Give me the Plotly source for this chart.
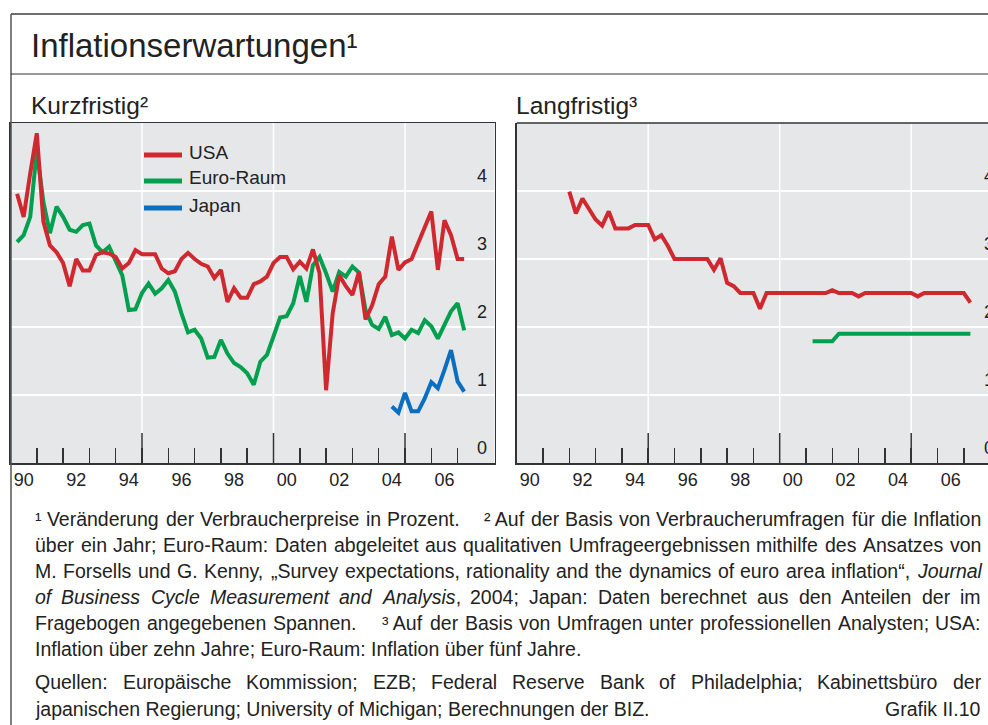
import re
import pandas as pd
import plotly.graph_objects as go

W, H = 988, 725

# ---------------- data ----------------
short_start, short_end = "1990Q1", "2007Q1"
usa_short = [3.96, 3.62, 4.26,
             4.85, 3.55, 3.20, 3.10,
             2.94, 2.60, 3.00, 2.83,
             2.83, 3.06, 3.10, 3.08,
             3.03, 2.86, 2.94, 3.13,
             3.07, 3.07, 3.07, 2.86,
             2.79, 2.82, 3.00, 3.09,
             3.00, 2.93, 2.89, 2.72,
             2.84, 2.37, 2.57, 2.43,
             2.43, 2.63, 2.67, 2.74,
             2.94, 3.03, 3.03, 2.85,
             2.96, 2.86, 3.14, 2.79,
             1.07, 2.20, 2.76, 2.60,
             2.47, 2.81, 2.11, 2.32,
             2.63, 2.74, 3.33, 2.84,
             2.95, 3.00, 3.23, 3.48,
             3.70, 2.84, 3.57, 3.35,
             3.00, 3.00]
euro_short = [3.25, 3.35, 3.62,
              4.60, 3.84, 3.38, 3.77,
              3.62, 3.43, 3.40, 3.50,
              3.52, 3.20, 3.10, 3.18,
              2.96, 2.76, 2.25, 2.26,
              2.50, 2.64, 2.49, 2.57,
              2.69, 2.52, 2.20, 1.92,
              1.96, 1.83, 1.55, 1.56,
              1.81, 1.61, 1.47, 1.41,
              1.32, 1.15, 1.49, 1.59,
              1.86, 2.14, 2.16, 2.35,
              2.75, 2.37, 2.91, 3.03,
              2.79, 2.52, 2.81, 2.74,
              2.89, 2.80, 2.25, 2.03,
              1.97, 2.15, 1.88, 1.92,
              1.83, 1.96, 1.91, 2.10,
              2.01, 1.83, 2.03, 2.23,
              2.35, 1.95]
japan_start, japan_end = "2004Q2", "2007Q1"
japan_short = [0.83, 0.74, 1.03, 0.76, 0.76, 0.95, 1.19, 1.10, 1.37, 1.66, 1.20, 1.05]

usa_long_start, usa_long_end = "1991Q4", "2007Q1"
usa_long = [3.99, 3.67, 3.89, 3.73,
            3.58, 3.49, 3.70, 3.45,
            3.45, 3.45, 3.50, 3.50,
            3.50, 3.29, 3.35, 3.19,
            3.00, 3.00, 3.00, 3.00,
            3.00, 3.00, 2.84, 3.01,
            2.65, 2.60, 2.50, 2.50,
            2.50, 2.27, 2.50, 2.50,
            2.50, 2.50, 2.50, 2.50,
            2.50, 2.50, 2.50, 2.50,
            2.54, 2.50, 2.50, 2.50,
            2.45, 2.50, 2.50, 2.50,
            2.50, 2.50, 2.50, 2.50,
            2.50, 2.45, 2.50, 2.50,
            2.50, 2.50, 2.50, 2.50,
            2.50, 2.36]
euro_long_start, euro_long_end = "2001Q1", "2007Q1"
euro_long = [1.79, 1.79, 1.79, 1.79,
             1.90, 1.90, 1.90, 1.90,
             1.90, 1.90, 1.90, 1.90,
             1.90, 1.90, 1.90, 1.90,
             1.90, 1.90, 1.90, 1.90,
             1.90, 1.90, 1.90, 1.90,
             1.90]

year_labels = ["90", "92", "94", "96", "98", "00", "02", "04", "06"]
label_years = [1990, 1992, 1994, 1996, 1998, 2000, 2002, 2004, 2006]
minor_years = list(range(1991, 2008))
major_years = [1995, 2000, 2005]
y_ticks = [0, 1, 2, 3, 4]

RED, GREEN, BLUE = "#d0282f", "#00a04f", "#0a6fc0"
BG = "#e6e7e9"
DARK = "#333333"
TXT = "#222222"
FONT = "Liberation Sans, Arial, sans-serif"


def qpos(start, end):
    per = pd.period_range(start, end, freq="Q")
    return [p.year + p.quarter / 4 for p in per]


def px(x):
    return x / W


def py(y):
    return 1 - y / H


PX_PER_YEAR = 26.3
L_X0, L_X1 = 10.5, 494.5
R_X0 = 516.7
Y_TOP, Y_BOT = 123, 463

fig = go.Figure()
fig.add_trace(go.Scatter(x=qpos(short_start, short_end), y=euro_short, mode="lines",
                         line=dict(color=GREEN, width=4), xaxis="x", yaxis="y", hoverinfo="skip"))
fig.add_trace(go.Scatter(x=qpos(short_start, short_end), y=usa_short, mode="lines",
                         line=dict(color=RED, width=4), xaxis="x", yaxis="y", hoverinfo="skip"))
fig.add_trace(go.Scatter(x=qpos(japan_start, japan_end), y=japan_short, mode="lines",
                         line=dict(color=BLUE, width=4), xaxis="x", yaxis="y", hoverinfo="skip"))
fig.add_trace(go.Scatter(x=qpos(usa_long_start, usa_long_end), y=usa_long, mode="lines",
                         line=dict(color=RED, width=4), xaxis="x2", yaxis="y2", hoverinfo="skip"))
fig.add_trace(go.Scatter(x=qpos(euro_long_start, euro_long_end), y=euro_long, mode="lines",
                         line=dict(color=GREEN, width=4), xaxis="x2", yaxis="y2", hoverinfo="skip"))

xcommon = dict(
    tickmode="array", tickvals=[y + 0.5 for y in label_years], ticktext=year_labels,
    ticks="", showgrid=False, zeroline=False,
    tickfont=dict(family=FONT, size=18, color=TXT),
    minor=dict(tickmode="array", tickvals=minor_years, ticks="inside", ticklen=15,
               tickwidth=1.5, tickcolor=DARK, showgrid=False),
    fixedrange=True,
)
ycommon = dict(range=[0, 5], tickmode="array", tickvals=y_ticks, ticks="",
               showgrid=True, gridcolor="white", gridwidth=1.5, zeroline=False,
               domain=[py(Y_BOT), py(Y_TOP)], fixedrange=True)

fig.update_layout(
    width=W, height=H, margin=dict(l=0, r=0, t=0, b=0),
    paper_bgcolor="white", plot_bgcolor=BG, showlegend=False,
    font=dict(family=FONT, color=TXT),
    xaxis=dict(domain=[px(L_X0), px(L_X1)], range=[1990, 1990 + (L_X1 - L_X0) / PX_PER_YEAR],
               anchor="y", showline=True, mirror=True, linecolor=DARK, linewidth=1.5, **xcommon),
    yaxis=dict(anchor="x", side="right", ticklabelposition="inside", ticklabelshift=-15,
               ticklabelstandoff=8, tickfont=dict(family=FONT, size=18, color=TXT),
               showline=True, mirror=True, linecolor=DARK, linewidth=1.5, **ycommon),
    xaxis2=dict(domain=[px(R_X0), 1], range=[1990, 1990 + (W - R_X0) / PX_PER_YEAR],
                anchor="y2", showline=True, mirror=False, linecolor=DARK, linewidth=1.5, **xcommon),
    yaxis2=dict(anchor="x2", side="left", showticklabels=False, showline=True,
                linecolor=DARK, linewidth=1.5, **ycommon),
)

shapes = []
# vertical white gridlines and long ticks in both panels
for xr, yr in (("x", "y"), ("x2", "y2")):
    for yv in major_years:
        shapes.append(dict(type="line", xref=xr, yref=yr, x0=yv, x1=yv, y0=0, y1=5,
                           line=dict(color="white", width=1.5), layer="below"))
        shapes.append(dict(type="line", xref=xr, yref=yr, x0=yv, x1=yv, y0=0, y1=30 / 68,
                           line=dict(color=DARK, width=1.5), layer="above"))
# top border of right panel
shapes.append(dict(type="line", xref="x2 domain", yref="y2 domain", x0=0, x1=1, y0=1, y1=1,
                   line=dict(color=DARK, width=1.5)))
# outer frame
shapes.append(dict(type="line", xref="paper", yref="paper", x0=px(11), x1=1, y0=py(14), y1=py(14),
                   line=dict(color="#6e6e6e", width=2)))
shapes.append(dict(type="line", xref="paper", yref="paper", x0=px(11), x1=px(11), y0=py(14), y1=0,
                   line=dict(color="#555555", width=1.5)))
shapes.append(dict(type="line", xref="paper", yref="paper", x0=px(11), x1=1, y0=py(74), y1=py(74),
                   line=dict(color=DARK, width=1)))
# legend keys
for col, yy in ((RED, 155), (GREEN, 181), (BLUE, 208)):
    shapes.append(dict(type="line", xref="paper", yref="paper", x0=px(144), x1=px(182),
                       y0=py(yy), y1=py(yy), line=dict(color=col, width=5)))
fig.update_layout(shapes=shapes)

ann = []


def text(x, y, s, size, anchor="left", yanchor="middle", **kw):
    ann.append(dict(xref="paper", yref="paper", x=px(x), y=py(y), text=s, showarrow=False,
                    xanchor=anchor, yanchor=yanchor, borderpad=0, borderwidth=0,
                    font=dict(family=FONT, size=size, color=TXT), **kw))


text(31, 45, "Inflationserwartungen¹", 33)
text(31, 105, "Kurzfristig²", 24.5)
text(516, 105, "Langfristig³", 24.5)
text(189, 152, "USA", 19)
text(189, 178, "Euro-Raum", 19)
text(189, 205, "Japan", 19)

# right-hand tick labels of the long-term panel (cut by the page edge, as in the original)
for v in y_ticks:
    ann.append(dict(xref="paper", yref="y2", x=px(983), y=v, yshift=15, text=str(v),
                    showarrow=False, xanchor="left", yanchor="middle", borderpad=0,
                    font=dict(family=FONT, size=18, color=TXT)))

# ---------- footnotes (justified, Arial/Helvetica metrics) ----------
WID = {" ": 278, ".": 278, ",": 278, ";": 278, ":": 278, "-": 333, "„": 333, "“": 333, "”": 333,
       "¹": 333, "²": 333, "³": 333, "ä": 556, "ö": 556, "ü": 556}
for c in "abdeghnopqu":
    WID[c] = 556
for c in "cksvxyz":
    WID[c] = 500
WID.update({"f": 278, "t": 278, "i": 222, "j": 222, "l": 222, "m": 833, "r": 333, "w": 722})
WID.update({"A": 667, "B": 667, "C": 722, "D": 722, "E": 667, "F": 611, "G": 778, "H": 722,
            "I": 278, "J": 500, "K": 667, "L": 556, "M": 833, "N": 722, "O": 778, "P": 667,
            "Q": 778, "R": 722, "S": 667, "T": 611, "U": 722, "V": 667, "W": 944, "X": 667,
            "Y": 667, "Z": 611})
for c in "0123456789":
    WID[c] = 556

FS = 19.5
X0, X1 = 35, 981


def tw(s):
    plain = re.sub(r"<[^>]+>", "", s)
    return sum(WID.get(c, 556) for c in plain) * FS / 1000


def justify(words, y, big=None):
    weights = [1.0] * (len(words) - 1)
    if big is not None:
        weights[big] = 4.0
    widths = [tw(w) for w in words]
    space = (X1 - X0 - sum(widths)) / sum(weights)
    x = X0
    for i, w in enumerate(words):
        text(x, y, w, FS)
        if i < len(weights):
            x += widths[i] + space * weights[i]


l1 = ["¹ Veränderung", "der", "Verbraucherpreise", "in", "Prozent.", "² Auf", "der", "Basis",
      "von", "Verbraucherumfragen", "für", "die", "Inflation"]
justify(l1, 519, big=4)
justify("über ein Jahr; Euro-Raum: Daten abgeleitet aus qualitativen Umfrageergebnissen mithilfe des Ansatzes von".split(" "), 545)
justify("M. Forsells und G. Kenny, „Survey expectations, rationality and the dynamics of euro area inflation“, <i>Journal</i>".split(" "), 571)
justify(["<i>of</i>", "<i>Business</i>", "<i>Cycle</i>", "<i>Measurement</i>", "<i>and</i>",
         "<i>Analysis</i>,", "2004;", "Japan:", "Daten", "berechnet", "aus", "den", "Anteilen", "der", "im"], 597)
l5 = ["Fragebogen", "angegebenen", "Spannen.", "³ Auf", "der", "Basis", "von", "Umfragen", "unter",
      "professionellen", "Analysten;", "USA:"]
justify(l5, 623, big=2)
text(X0, 648.5, "Inflation über zehn Jahre; Euro-Raum: Inflation über fünf Jahre.", FS)
justify("Quellen: Europäische Kommission; EZB; Federal Reserve Bank of Philadelphia; Kabinettsbüro der".split(" "), 682)
text(X0, 708.5, "japanischen Regierung; University of Michigan; Berechnungen der BIZ.", FS)
text(X1, 708.5, "Grafik II.10", FS, anchor="right")

fig.update_layout(annotations=ann)
fig.write_html("out.html", config={"displayModeBar": False, "staticPlot": True},
               post_script="document.body.style.margin='0px';document.body.style.overflow='hidden';")
